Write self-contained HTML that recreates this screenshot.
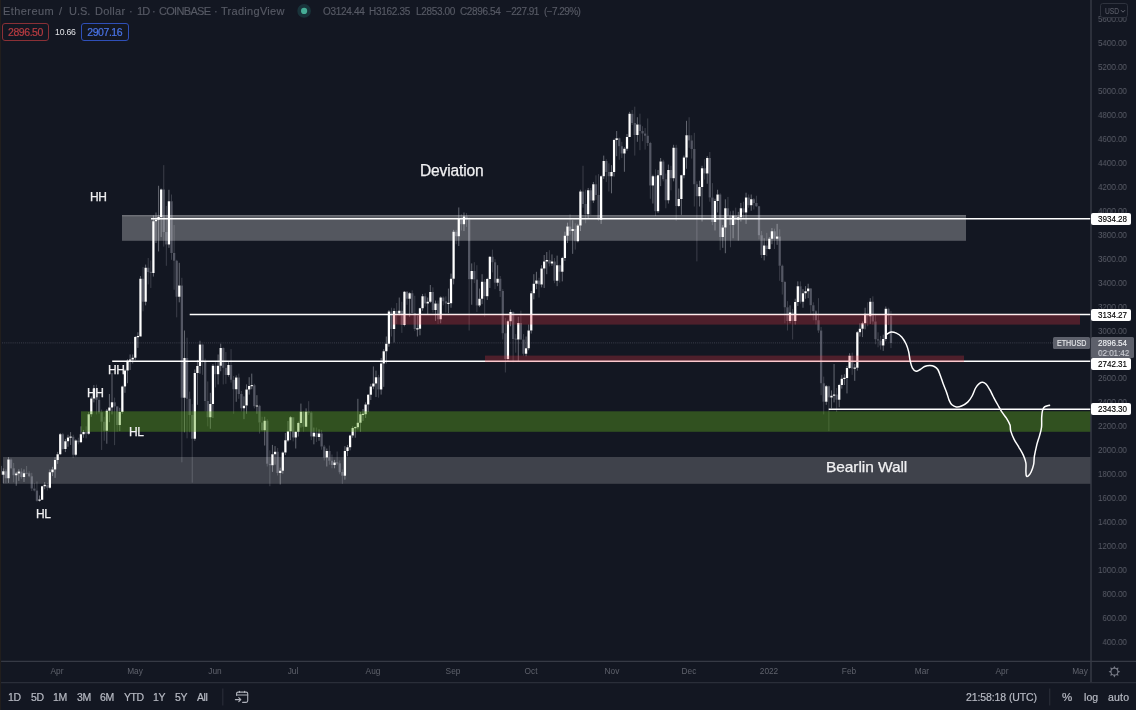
<!DOCTYPE html>
<html><head><meta charset="utf-8"><title>ETHUSD</title>
<style>
*{margin:0;padding:0;box-sizing:border-box}
html,body{width:1136px;height:710px;overflow:hidden;background:#131722}
body>div{will-change:transform}
body{font-family:"Liberation Sans",sans-serif;position:relative;color:#d1d4dc}
.abs{position:absolute;white-space:nowrap}
#chart{position:absolute;left:0;top:0;width:1136px;height:710px}
.sl{position:absolute;left:1077.2px;width:50px;text-align:right;font-size:9.3px;line-height:10px;color:#595c67;white-space:nowrap;transform:scaleX(0.865);transform-origin:100% 50%}
.ml{position:absolute;top:665.9px;width:40px;text-align:center;font-size:8.3px;line-height:10px;color:#5f626c;white-space:nowrap}
.pl{position:absolute;left:1091px;width:40px;height:12px;background:#fff;color:#000;font-size:9.3px;line-height:12px;border-radius:2px;white-space:nowrap}
.pl span,.sx{display:inline-block;transform:scaleX(0.865);transform-origin:0 50%;-webkit-text-stroke:0.15px currentColor}
.pl span{position:absolute;left:7.2px;top:0.4px}
.ht{top:4.5px;font-size:11px;line-height:13px;color:#575a65;-webkit-text-stroke:0.15px #575a65}
.ho{top:5.6px;font-size:10px;line-height:12px;color:#575a65;-webkit-text-stroke:0.15px #575a65}
.tb{position:absolute;top:691px;font-size:10.5px;line-height:12px;color:#b8bbc4;white-space:nowrap;letter-spacing:-0.45px;-webkit-text-stroke:0.2px #b8bbc4}
.lbl{position:absolute;color:#f0f0f2;white-space:nowrap;-webkit-text-stroke:0.25px #f0f0f2}
.hh{font-size:12px;line-height:14px;letter-spacing:-0.5px}
.hl{font-size:12px;line-height:14px;letter-spacing:-0.5px}
</style></head><body>
<svg id="chart" width="1136" height="710" viewBox="0 0 1136 710">
<!-- current price dotted line -->
<line x1="0" y1="342.9" x2="1053" y2="342.9" stroke="#3c3f4c" stroke-width="1" stroke-dasharray="1 1.1"/>
<g id="candles">
<path d="M3.30 468.29V471.16M3.30 474.64V483.26M8.48 457.03V459.54M8.48 478.23V482.90M16.24 471.88V473.56M16.24 475.24V485.78M18.83 469.25V471.40M18.83 473.56V480.87M24.00 469.37V473.20M24.00 476.91V481.95M39.53 495.48V499.56M39.53 500.76V501.59M42.12 485.66V486.26M42.12 499.68V500.04M44.71 482.07V484.70M44.71 486.26V489.25M49.88 469.49V472.36M49.88 487.70V488.66M52.47 466.85V469.49M52.47 472.36V476.08M55.06 457.15V460.02M55.06 469.49V477.87M57.65 451.87V454.27M57.65 460.02V463.85M60.24 432.94V434.26M60.24 454.27V455.11M65.41 438.93V441.21M65.41 449.12V452.11M68.00 434.74V437.38M68.00 441.21V446.72M70.59 432.10V436.48M70.59 437.68V444.92M75.76 439.29V440.49M75.76 454.63V456.31M80.94 426.35V434.26M80.94 442.29V443.13M83.53 429.95V431.99M83.53 434.26V437.74M88.70 411.98V414.25M88.70 433.78V434.74M91.29 396.40V398.44M91.29 414.25V416.77M93.88 385.02V388.49M93.88 398.44V402.39M106.82 408.98V410.78M106.82 430.79V443.73M109.41 394.01V407.54M109.41 410.78V422.16M112.00 373.04V402.27M112.00 407.54V414.37M119.76 407.78V412.10M119.76 424.92V431.15M122.35 385.62V386.46M122.35 412.10V413.77M124.94 368.85V370.52M124.94 386.46V392.81M127.52 359.26V360.70M127.52 370.52V383.22M130.11 354.47V359.56M130.11 360.76V370.04M132.70 354.47V357.70M132.70 359.62V363.45M135.29 335.90V336.98M135.29 357.70V359.86M137.88 332.30V336.08M137.88 337.28V347.88M140.46 275.99V278.87M145.64 264.61V267.85M145.64 301.75V305.35M153.40 215.49V221.36M153.40 272.88V276.59M155.99 212.49V219.80M155.99 221.36V243.04M158.58 185.78V216.93M158.58 219.80V251.43M161.17 188.53V189.61M161.17 216.93V237.05M168.93 189.73V201.23M168.93 244.60V247.84M179.28 262.81V285.46M179.28 296.72V302.35M184.46 330.51V358.06M184.46 397.84V432.34M194.81 369.44V373.04M194.81 438.81V440.73M197.40 359.86V366.09M197.40 373.04V404.79M199.99 340.69V344.40M199.99 366.09V373.64M210.34 392.81V404.07M210.34 417.25V428.75M212.93 364.05V365.73M212.93 404.07V417.97M218.10 354.47V365.73M218.10 374.36V384.42M220.69 343.69V347.88M220.69 365.73V371.24M228.46 361.06V365.01M228.46 375.08V376.63M236.22 375.43V377.47M236.22 389.21V401.79M243.98 396.40V405.63M243.98 408.14V419.17M246.57 384.42V389.45M246.57 405.63V413.77M249.16 377.23V385.98M249.16 389.45V394.60M251.75 373.64V384.96M251.75 386.16V389.21M256.92 395.20V405.39M256.92 406.59V413.77M264.69 416.77V420.84M264.69 430.31V445.52M272.45 444.92V454.15M272.45 465.29V471.88M275.04 446.12V451.75M275.04 454.15V464.69M280.22 467.69V470.68M280.22 472.96V484.46M282.80 451.51V452.47M282.80 470.68V473.68M285.39 432.94V440.37M285.39 452.47V455.11M287.98 420.96V431.15M287.98 440.37V441.93M290.57 416.17V417.37M290.57 431.15V440.13M295.74 431.15V431.75M295.74 437.38V448.52M298.33 421.56V423.12M298.33 431.75V436.54M300.92 403.59V411.74M300.92 423.12V427.55M306.10 408.38V411.74M306.10 426.71V426.95M313.86 427.55V432.82M313.86 436.54V444.33M319.04 429.35V433.54M319.04 437.02V440.73M326.80 448.52V450.92M326.80 457.50V466.49M334.56 459.90V462.42M334.56 465.05V468.29M344.92 446.12V450.92M344.92 475.84V479.67M347.50 444.92V447.32M347.50 450.92V456.31M350.09 434.74V435.58M350.09 447.32V450.32M352.68 426.35V427.91M352.68 435.58V437.74M355.27 426.35V427.01M355.27 428.21V437.74M357.86 398.80V422.76M357.86 427.31V429.35M360.44 411.98V414.37M360.44 422.76V431.75M363.03 408.98V413.77M363.03 414.97V420.96M365.62 402.39V404.55M365.62 414.37V417.97M368.21 394.01V394.84M368.21 404.55V411.98M370.80 383.82V386.58M370.80 394.84V400.00M373.38 366.45V383.58M373.38 386.58V389.21M375.97 370.64V377.23M375.97 383.58V397.00M381.15 358.06V363.45M381.15 389.45V394.60M383.74 349.08V351.23M383.74 363.45V386.82M386.32 336.50V343.69M386.32 351.23V363.45M388.91 310.14V311.58M388.91 343.69V346.68M394.09 308.34V310.98M394.09 329.07V342.49M399.26 297.56V310.86M399.26 313.49V315.53M404.44 290.97V291.81M404.44 325.11V326.31M409.62 292.17V293.36M409.62 298.76V316.73M417.38 315.53V328.29M417.38 329.49V336.50M419.97 307.74V308.34M419.97 328.71V335.30M422.56 293.96V296.36M422.56 308.34V310.74M427.73 297.56V301.75M427.73 303.55V314.93M430.32 284.98V291.93M430.32 301.75V302.95M435.50 300.55V303.55M435.50 309.90V320.92M440.67 296.36V297.56M440.67 319.12V323.32M448.44 288.57V302.77M448.44 303.97V313.13M451.02 273.60V278.75M451.02 303.19V307.74M453.61 229.87V231.66M453.61 278.75V284.38M458.79 207.46V218.12M458.79 236.22V246.04M463.96 212.49V216.45M463.96 224.23V231.06M471.73 263.41V270.96M471.73 279.35V304.75M479.49 288.57V298.76M479.49 305.59V307.14M482.08 274.20V281.74M482.08 298.76V304.15M487.26 277.79V278.99M487.26 296.36V299.95M489.84 256.22V256.82M489.84 278.99V287.97M497.61 265.21V278.75M497.61 282.82V286.18M507.96 319.72V321.28M507.96 359.02V361.66M510.55 309.54V311.94M510.55 321.28V326.31M518.31 316.73V323.08M518.31 339.49V361.66M526.08 336.50V348.24M526.08 353.63V356.27M528.66 324.52V330.51M528.66 348.24V350.27M531.25 290.97V293.36M531.25 330.51V333.50M533.84 274.20V283.78M533.84 293.36V299.36M536.43 271.80V280.43M536.43 283.78V289.17M541.60 265.21V268.56M541.60 284.62V287.37M544.19 255.03V261.38M544.19 268.56V287.97M546.78 252.03V260.06M546.78 261.38V274.20M551.96 254.43V261.62M551.96 263.41V265.81M557.13 255.62V265.21M557.13 280.78V286.18M562.31 256.82V258.02M562.31 271.80V281.38M564.90 231.66V235.86M564.90 258.02V261.02M567.48 222.68V226.51M567.48 235.86V243.04M572.66 220.28V229.03M572.66 231.06V253.83M577.84 223.88V225.43M577.84 241.25V242.45M580.42 189.73V191.53M580.42 225.43V231.06M588.19 187.93V190.33M588.19 214.29V218.48M593.36 181.94V184.34M593.36 200.51V202.91M601.13 175.35V176.31M601.13 219.68V223.88M603.72 155.58V160.97M603.72 176.31V178.95M611.48 165.17V172.12M611.48 176.19V193.32M614.07 138.81V140.01M614.07 172.12V176.55M616.66 131.02V138.21M616.66 140.01V156.18M624.42 147.20V148.63M624.42 153.43V171.76M627.01 134.02V137.01M627.01 148.63V150.79M629.60 111.85V113.65M637.36 117.24V124.43M637.36 134.98V141.81M652.89 174.75V176.31M652.89 185.54V203.51M658.06 169.96V175.35M658.06 211.30V213.09M660.65 157.98V161.57M660.65 175.35V186.13M668.42 164.57V169.96M668.42 200.15V203.51M673.59 144.80V147.80M673.59 178.35V181.34M678.77 188.53V199.07M678.77 205.90V207.10M681.36 174.75V175.35M681.36 199.07V214.89M683.94 155.58V157.38M683.94 175.35V178.35M686.53 120.84V135.22M686.53 157.38V168.76M699.47 180.74V186.97M699.47 196.32V206.50M702.06 165.77V168.16M702.06 186.97V221.48M707.24 156.18V157.98M707.24 173.55V183.74M715.00 198.72V201.11M715.00 222.08V230.46M717.59 189.73V194.52M717.59 201.11V212.49M722.76 225.07V227.47M722.76 237.05V247.84M725.35 199.31V208.30M725.35 227.47V253.23M733.12 210.70V215.49M733.12 225.07V238.25M738.29 211.89V217.29M738.29 219.68V240.65M740.88 202.91V208.30M740.88 217.29V221.48M746.06 192.72V197.52M746.06 212.49V223.88M751.23 194.52V199.31M751.23 205.30V210.70M764.17 238.25V245.44M764.17 255.03V260.42M769.35 237.05V238.85M769.35 249.04V249.63M771.94 228.07V231.30M771.94 238.85V244.24M777.11 223.88V236.46M777.11 238.85V244.84M790.05 305.35V312.53M790.05 320.92V323.32M795.23 298.76V301.99M795.23 320.92V324.52M797.82 281.38V286.18M797.82 301.99V305.94M802.99 289.17V293.36M802.99 301.75V307.74M805.58 286.18V291.21M805.58 293.36V298.76M808.17 283.78V288.57M808.17 291.21V298.16M826.28 385.02V386.22M826.28 401.79V404.79M831.46 390.41V395.80M831.46 397.60V408.38M834.05 364.05V394.60M834.05 395.80V402.39M839.22 383.82V385.02M839.22 399.76V407.18M841.81 374.84V378.67M841.81 385.02V388.61M844.40 374.24V377.77M844.40 378.97V385.02M846.99 365.85V367.89M846.99 378.07V393.41M849.58 353.27V355.67M849.58 367.89V368.85M854.75 364.05V367.47M854.75 368.67V380.83M857.34 331.11V332.30M857.34 367.65V370.64M859.93 323.32V328.71M859.93 332.30V336.50M862.52 321.52V323.32M862.52 328.71V337.10M865.10 307.74V313.73M865.10 323.32V329.31M870.28 298.16V301.75M870.28 316.13V323.92M883.22 334.70V338.89M883.22 345.48V350.87M885.81 306.54V308.70M885.81 338.89V341.29" stroke="#c8cad2" stroke-opacity="0.45" stroke-width="1" fill="none"/>
<path d="M0.71 464.69V465.89M5.89 469.25V471.16M5.89 478.23V483.26M11.06 458.34V459.54M11.06 468.29V469.13M13.65 462.90V468.29M13.65 475.24V482.31M21.42 468.29V471.40M21.42 476.91V478.83M26.59 466.01V472.66M26.59 473.86V474.28M29.18 471.28V473.32M29.18 476.19V477.27M31.77 472.84V476.19M31.77 488.42V491.05M34.36 483.26V488.42M34.36 490.45V491.41M36.94 481.47V490.45M36.94 500.64V501.59M47.30 482.90V484.70M47.30 487.70V490.45M62.82 432.94V434.26M62.82 449.12V450.32M73.18 434.74V436.78M73.18 454.63V458.10M78.35 437.74V440.49M78.35 442.29V444.33M86.12 426.35V431.99M86.12 433.78V438.33M96.47 384.66V388.49M96.47 399.64V414.37M99.06 390.41V399.64M99.06 412.34V413.77M101.64 409.58V412.34M101.64 421.80V449.96M104.23 416.77V421.80M104.23 430.79V440.73M114.58 397.60V402.27M114.58 406.59V445.16M117.17 405.99V406.59M117.17 424.92V431.75M143.05 267.01V278.87M143.05 301.75V311.34M148.23 258.02V267.85M148.23 271.92V284.38M150.82 260.42V271.80M150.82 273.00V287.97M163.76 165.17V189.61M163.76 231.90V246.64M166.34 205.90V231.90M166.34 244.60V265.81M171.52 194.52V201.23M171.52 253.11V259.82M174.11 225.07V253.11M174.11 260.78V289.77M176.70 259.82V260.78M176.70 296.72V317.33M181.87 277.79V285.46M181.87 397.84V462.30M187.05 337.69V358.06M187.05 398.68V438.33M189.64 391.61V398.68M189.64 414.97V432.34M192.22 404.19V414.97M192.22 438.81V482.66M202.58 343.69V344.40M202.58 361.42V374.84M205.16 358.66V361.42M205.16 400.95V411.38M207.75 381.43V400.95M207.75 417.25V426.35M215.52 361.66V365.73M215.52 374.36V387.42M223.28 347.28V347.88M223.28 367.65V384.42M225.87 352.07V367.65M225.87 375.08V383.82M231.04 349.08V365.01M231.04 379.63V382.62M233.63 376.03V379.63M233.63 389.21V413.77M238.81 373.64V377.47M238.81 394.01V398.80M241.40 391.01V394.01M241.40 408.14V411.38M254.34 383.82V385.14M254.34 406.35V408.38M259.51 404.79V405.63M259.51 422.52V433.54M262.10 416.77V422.52M262.10 430.31V431.15M267.28 419.17V420.84M267.28 463.73V466.49M269.86 450.32V463.73M269.86 465.29V486.26M277.63 447.92V451.75M277.63 472.96V475.48M293.16 437.38V441.33M303.51 411.38V411.74M303.51 426.71V431.75M308.68 401.19V411.56M308.68 412.76V414.97M311.27 411.38V412.58M311.27 436.54V440.13M316.45 427.55V432.82M316.45 437.02V441.93M321.62 429.95V433.54M321.62 446.48V449.72M324.21 444.92V446.48M324.21 457.50V460.50M329.39 445.52V450.92M329.39 460.86V464.69M331.98 454.51V460.86M331.98 465.05V468.29M337.15 451.51V462.18M337.15 463.38V465.29M339.74 460.50V463.14M339.74 472.12V474.28M342.33 469.49V472.12M342.33 475.84V483.86M378.56 374.84V377.23M378.56 389.45V397.60M391.50 307.74V311.58M391.50 329.07V336.50M396.68 302.95V310.98M396.68 313.49V323.92M401.85 301.75V310.86M401.85 325.11V332.90M407.03 290.97V291.81M407.03 298.76V304.75M412.20 290.37V293.36M412.20 312.89V313.73M414.79 295.76V312.89M414.79 329.07V331.11M425.14 293.36V296.36M425.14 303.55V306.54M432.91 287.37V291.93M432.91 309.90V312.53M438.08 300.55V303.55M438.08 319.12V323.92M443.26 296.36V297.56M443.26 301.15V305.35M445.85 296.36V301.15M445.85 303.55V312.53M456.20 229.87V231.66M456.20 236.22V244.24M461.38 214.29V218.12M461.38 224.23V230.46M466.55 213.09V216.45M466.55 219.44V226.87M469.14 217.29V219.44M469.14 279.35V330.51M474.32 262.21V270.96M474.32 279.59V283.18M476.90 265.21V279.59M476.90 305.59V311.94M484.67 278.99V281.74M484.67 296.36V316.73M492.43 249.63V256.82M492.43 262.21V272.40M495.02 259.22V262.21M495.02 282.82V289.17M500.20 275.99V278.75M500.20 290.97V296.96M502.78 289.17V290.97M502.78 333.26V339.49M505.37 317.93V333.26M505.37 359.02V372.44M513.14 311.34V311.94M513.14 338.89V362.26M515.72 334.10V338.59M515.72 339.79V352.67M520.90 310.74V323.08M520.90 339.49V340.09M523.49 334.10V339.49M523.49 353.63V355.67M539.02 277.79V280.43M539.02 284.62V297.56M549.37 250.23V260.06M549.37 263.41V266.41M554.54 258.02V261.62M554.54 280.78V283.18M559.72 264.61V265.21M559.72 271.80V282.58M570.07 214.29V226.51M570.07 231.06V234.66M575.25 223.28V229.03M575.25 241.25V249.63M583.01 165.77V191.53M583.01 204.11V207.70M585.60 189.73V204.11M585.60 214.29V223.28M590.78 187.93V190.33M590.78 200.51V214.89M595.95 175.35V184.34M595.95 195.12V199.91M598.54 174.15V195.12M598.54 219.68V220.88M606.30 159.18V160.97M606.30 172.12V181.94M608.89 163.37V172.12M608.89 176.19V191.53M619.24 137.61V138.21M619.24 146.36V159.78M621.83 141.81V146.36M621.83 153.43V157.98M632.18 110.06V113.65M632.18 123.00V125.03M634.77 106.70V123.00M634.77 134.98V155.58M639.95 113.65V124.43M639.95 131.02V150.19M642.54 126.23V131.02M642.54 133.42V141.21M645.12 128.03V133.42M645.12 135.81V149.59M647.71 118.44V135.81M647.71 143.00V146.00M650.30 141.81V143.00M650.30 185.54V198.72M655.48 169.36V176.31M655.48 211.30V216.09M663.24 159.78V161.57M663.24 179.31V181.34M665.83 173.55V179.31M665.83 200.15V208.30M671.00 165.77V169.96M671.00 178.35V190.33M676.18 144.80V147.80M676.18 205.90V220.88M689.12 117.24V135.22M689.12 140.61V147.80M691.71 135.22V140.61M691.71 148.99V158.58M694.30 132.82V148.99M694.30 184.34V206.50M696.88 181.34V184.34M696.88 196.32V261.38M704.65 159.18V168.16M704.65 173.55V179.55M709.82 151.99V157.98M709.82 197.52V201.71M712.41 183.14V197.52M712.41 222.08V225.07M720.18 193.32V194.52M720.18 237.05V250.23M727.94 196.92V208.30M727.94 215.49V216.69M730.53 211.30V215.49M730.53 225.07V247.24M735.70 207.70V215.49M735.70 219.68V223.88M743.47 201.71V208.30M743.47 212.49V217.88M748.64 194.52V197.52M748.64 205.30V207.70M753.82 198.12V199.31M753.82 202.91V209.50M756.41 195.72V202.91M756.41 206.26V207.10M759.00 205.90V206.26M759.00 235.26V239.45M761.58 231.06V235.26M761.58 255.03V258.02M766.76 232.86V245.44M766.76 249.04V256.22M774.52 228.67V231.30M774.52 238.85V249.04M779.70 229.27V236.46M779.70 265.81V280.78M782.29 264.61V265.81M782.29 281.98V294.56M784.88 280.78V281.98M784.88 307.14V323.32M787.46 301.15V307.14M787.46 320.92V330.51M792.64 308.94V312.53M792.64 320.92V339.49M800.40 281.38V286.18M800.40 301.75V303.55M810.76 287.97V288.57M810.76 305.35V313.73M813.34 302.35V305.35M813.34 311.34V320.32M815.93 310.14V311.34M815.93 320.32V324.52M818.52 298.16V320.32M818.52 330.51V332.90M821.11 326.91V330.51M821.11 383.22V395.20M823.70 376.63V383.22M823.70 401.79V414.37M828.87 385.62V386.22M828.87 397.60V431.15M836.64 388.01V394.60M836.64 399.76V411.98M852.16 352.67V355.67M852.16 368.49V374.84M867.69 302.35V313.73M867.69 316.13V326.31M872.87 296.36V301.75M872.87 321.52V324.52M875.46 313.73V321.52M875.46 339.25V344.28M878.04 332.30V339.25M878.04 340.45V347.28M880.63 335.90V340.45M880.63 345.48V349.68M888.40 307.74V308.70M888.40 315.65V325.11M890.98 311.10V315.65M890.98 342.91V348.12" stroke="#7d808c" stroke-opacity="0.38" stroke-width="1" fill="none"/>
<path d="M-0.41 465.89h2.25v8.75h-2.25zM4.76 471.16h2.25v7.07h-2.25zM9.94 459.54h2.25v8.75h-2.25zM12.53 468.29h2.25v6.95h-2.25zM20.29 471.40h2.25v5.51h-2.25zM25.47 472.66h2.25v1.20h-2.25zM28.06 473.32h2.25v2.88h-2.25zM30.64 476.19h2.25v12.22h-2.25zM33.23 488.42h2.25v2.04h-2.25zM35.82 490.45h2.25v10.18h-2.25zM46.17 484.70h2.25v3.00h-2.25zM61.70 434.26h2.25v14.86h-2.25zM72.05 436.78h2.25v17.85h-2.25zM77.23 440.49h2.25v1.80h-2.25zM84.99 431.99h2.25v1.80h-2.25zM95.34 388.49h2.25v11.14h-2.25zM97.93 399.64h2.25v12.70h-2.25zM100.52 412.34h2.25v9.46h-2.25zM103.11 421.80h2.25v8.99h-2.25zM113.46 402.27h2.25v4.31h-2.25zM116.05 406.59h2.25v18.33h-2.25zM141.93 278.87h2.25v22.88h-2.25zM147.10 267.85h2.25v4.07h-2.25zM149.69 271.80h2.25v1.20h-2.25zM162.63 189.61h2.25v42.29h-2.25zM165.22 231.90h2.25v12.70h-2.25zM170.40 201.23h2.25v51.88h-2.25zM172.98 253.11h2.25v7.67h-2.25zM175.57 260.78h2.25v35.94h-2.25zM180.75 285.46h2.25v112.38h-2.25zM185.92 358.06h2.25v40.62h-2.25zM188.51 398.68h2.25v16.29h-2.25zM191.10 414.97h2.25v23.84h-2.25zM201.45 344.40h2.25v17.01h-2.25zM204.04 361.42h2.25v39.54h-2.25zM206.63 400.95h2.25v16.29h-2.25zM214.39 365.73h2.25v8.63h-2.25zM222.16 347.88h2.25v19.77h-2.25zM224.74 367.65h2.25v7.43h-2.25zM229.92 365.01h2.25v14.62h-2.25zM232.51 379.63h2.25v9.58h-2.25zM237.68 377.47h2.25v16.53h-2.25zM240.27 394.01h2.25v14.14h-2.25zM253.21 385.14h2.25v21.21h-2.25zM258.39 405.63h2.25v16.89h-2.25zM260.98 422.52h2.25v7.79h-2.25zM266.15 420.84h2.25v42.89h-2.25zM268.74 463.73h2.25v1.56h-2.25zM276.50 451.75h2.25v21.21h-2.25zM292.03 417.37h2.25v20.01h-2.25zM302.38 411.74h2.25v14.98h-2.25zM307.56 411.56h2.25v1.20h-2.25zM310.15 412.58h2.25v23.96h-2.25zM315.32 432.82h2.25v4.19h-2.25zM320.50 433.54h2.25v12.94h-2.25zM323.09 446.48h2.25v11.02h-2.25zM328.26 450.92h2.25v9.94h-2.25zM330.85 460.86h2.25v4.19h-2.25zM336.03 462.18h2.25v1.20h-2.25zM338.62 463.14h2.25v8.99h-2.25zM341.20 472.12h2.25v3.71h-2.25zM377.44 377.23h2.25v12.22h-2.25zM390.38 311.58h2.25v17.49h-2.25zM395.55 310.98h2.25v2.52h-2.25zM400.73 310.86h2.25v14.26h-2.25zM405.90 291.81h2.25v6.95h-2.25zM411.08 293.36h2.25v19.53h-2.25zM413.67 312.89h2.25v16.17h-2.25zM424.02 296.36h2.25v7.19h-2.25zM431.78 291.93h2.25v17.97h-2.25zM436.96 303.55h2.25v15.58h-2.25zM442.14 297.56h2.25v3.59h-2.25zM444.72 301.15h2.25v2.40h-2.25zM455.08 231.66h2.25v4.55h-2.25zM460.25 218.12h2.25v6.11h-2.25zM465.43 216.45h2.25v3.00h-2.25zM468.02 219.44h2.25v59.91h-2.25zM473.19 270.96h2.25v8.63h-2.25zM475.78 279.59h2.25v26.00h-2.25zM483.54 281.74h2.25v14.62h-2.25zM491.31 256.82h2.25v5.39h-2.25zM493.90 262.21h2.25v20.61h-2.25zM499.07 278.75h2.25v12.22h-2.25zM501.66 290.97h2.25v42.29h-2.25zM504.25 333.26h2.25v25.76h-2.25zM512.01 311.94h2.25v26.96h-2.25zM514.60 338.59h2.25v1.20h-2.25zM519.77 323.08h2.25v16.41h-2.25zM522.36 339.49h2.25v14.14h-2.25zM537.89 280.43h2.25v4.19h-2.25zM548.24 260.06h2.25v3.35h-2.25zM553.42 261.62h2.25v19.17h-2.25zM558.60 265.21h2.25v6.59h-2.25zM568.95 226.51h2.25v4.55h-2.25zM574.12 229.03h2.25v12.22h-2.25zM581.89 191.53h2.25v12.58h-2.25zM584.48 204.11h2.25v10.18h-2.25zM589.65 190.33h2.25v10.18h-2.25zM594.83 184.34h2.25v10.78h-2.25zM597.41 195.12h2.25v24.56h-2.25zM605.18 160.97h2.25v11.14h-2.25zM607.77 172.12h2.25v4.07h-2.25zM618.12 138.21h2.25v8.15h-2.25zM620.71 146.36h2.25v7.07h-2.25zM631.06 113.65h2.25v9.35h-2.25zM633.65 123.00h2.25v11.98h-2.25zM638.82 124.43h2.25v6.59h-2.25zM641.41 131.02h2.25v2.40h-2.25zM644.00 133.42h2.25v2.40h-2.25zM646.59 135.81h2.25v7.19h-2.25zM649.17 143.00h2.25v42.53h-2.25zM654.35 176.31h2.25v34.98h-2.25zM662.12 161.57h2.25v17.73h-2.25zM664.70 179.31h2.25v20.85h-2.25zM669.88 169.96h2.25v8.39h-2.25zM675.05 147.80h2.25v58.11h-2.25zM688.00 135.22h2.25v5.39h-2.25zM690.58 140.61h2.25v8.39h-2.25zM693.17 148.99h2.25v35.34h-2.25zM695.76 184.34h2.25v11.98h-2.25zM703.52 168.16h2.25v5.39h-2.25zM708.70 157.98h2.25v39.54h-2.25zM711.29 197.52h2.25v24.56h-2.25zM719.05 194.52h2.25v42.53h-2.25zM726.81 208.30h2.25v7.19h-2.25zM729.40 215.49h2.25v9.58h-2.25zM734.58 215.49h2.25v4.19h-2.25zM742.34 208.30h2.25v4.19h-2.25zM747.52 197.52h2.25v7.79h-2.25zM752.69 199.31h2.25v3.59h-2.25zM755.28 202.91h2.25v3.35h-2.25zM757.87 206.26h2.25v28.99h-2.25zM760.46 235.26h2.25v19.77h-2.25zM765.63 245.44h2.25v3.59h-2.25zM773.40 231.30h2.25v7.55h-2.25zM778.57 236.46h2.25v29.35h-2.25zM781.16 265.81h2.25v16.17h-2.25zM783.75 281.98h2.25v25.16h-2.25zM786.34 307.14h2.25v13.78h-2.25zM791.51 312.53h2.25v8.39h-2.25zM799.28 286.18h2.25v15.58h-2.25zM809.63 288.57h2.25v16.77h-2.25zM812.22 305.35h2.25v5.99h-2.25zM814.81 311.34h2.25v8.99h-2.25zM817.39 320.32h2.25v10.18h-2.25zM819.98 330.51h2.25v52.72h-2.25zM822.57 383.22h2.25v18.57h-2.25zM827.75 386.22h2.25v11.38h-2.25zM835.51 394.60h2.25v5.15h-2.25zM851.04 355.67h2.25v12.82h-2.25zM866.57 313.73h2.25v2.40h-2.25zM871.74 301.75h2.25v19.77h-2.25zM874.33 321.52h2.25v17.73h-2.25zM876.92 339.25h2.25v1.20h-2.25zM879.51 340.45h2.25v5.03h-2.25zM887.27 308.70h2.25v6.95h-2.25zM889.86 315.65h2.25v27.26h-2.25z" fill="#7d808c" fill-opacity="0.62"/>
<path d="M2.17 471.16h2.25v3.47h-2.25zM7.35 459.54h2.25v18.69h-2.25zM15.12 473.56h2.25v1.68h-2.25zM17.70 471.40h2.25v2.16h-2.25zM22.88 473.20h2.25v3.71h-2.25zM38.41 499.56h2.25v1.20h-2.25zM40.99 486.26h2.25v13.42h-2.25zM43.58 484.70h2.25v1.56h-2.25zM48.76 472.36h2.25v15.34h-2.25zM51.35 469.49h2.25v2.88h-2.25zM53.94 460.02h2.25v9.46h-2.25zM56.52 454.27h2.25v5.75h-2.25zM59.11 434.26h2.25v20.01h-2.25zM64.29 441.21h2.25v7.91h-2.25zM66.88 437.38h2.25v3.83h-2.25zM69.46 436.48h2.25v1.20h-2.25zM74.64 440.49h2.25v14.14h-2.25zM79.81 434.26h2.25v8.03h-2.25zM82.40 431.99h2.25v2.28h-2.25zM87.58 414.25h2.25v19.53h-2.25zM90.17 398.44h2.25v15.81h-2.25zM92.75 388.49h2.25v9.94h-2.25zM105.70 410.78h2.25v20.01h-2.25zM108.28 407.54h2.25v3.23h-2.25zM110.87 402.27h2.25v5.27h-2.25zM118.64 412.10h2.25v12.82h-2.25zM121.22 386.46h2.25v25.64h-2.25zM123.81 370.52h2.25v15.93h-2.25zM126.40 360.70h2.25v9.82h-2.25zM128.99 359.56h2.25v1.20h-2.25zM131.58 357.70h2.25v1.92h-2.25zM134.16 336.98h2.25v20.73h-2.25zM136.75 336.08h2.25v1.20h-2.25zM139.34 278.87h2.25v57.51h-2.25zM144.52 267.85h2.25v33.91h-2.25zM152.28 221.36h2.25v51.52h-2.25zM154.87 219.80h2.25v1.56h-2.25zM157.46 216.93h2.25v2.88h-2.25zM160.04 189.61h2.25v27.32h-2.25zM167.81 201.23h2.25v43.37h-2.25zM178.16 285.46h2.25v11.26h-2.25zM183.34 358.06h2.25v39.78h-2.25zM193.69 373.04h2.25v65.78h-2.25zM196.28 366.09h2.25v6.95h-2.25zM198.86 344.40h2.25v21.69h-2.25zM209.22 404.07h2.25v13.18h-2.25zM211.80 365.73h2.25v38.34h-2.25zM216.98 365.73h2.25v8.63h-2.25zM219.57 347.88h2.25v17.85h-2.25zM227.33 365.01h2.25v10.06h-2.25zM235.10 377.47h2.25v11.74h-2.25zM242.86 405.63h2.25v2.52h-2.25zM245.45 389.45h2.25v16.17h-2.25zM248.04 385.98h2.25v3.47h-2.25zM250.62 384.96h2.25v1.20h-2.25zM255.80 405.39h2.25v1.20h-2.25zM263.56 420.84h2.25v9.46h-2.25zM271.33 454.15h2.25v11.14h-2.25zM273.92 451.75h2.25v2.40h-2.25zM279.09 470.68h2.25v2.28h-2.25zM281.68 452.47h2.25v18.21h-2.25zM284.27 440.37h2.25v12.10h-2.25zM286.86 431.15h2.25v9.23h-2.25zM289.44 417.37h2.25v13.78h-2.25zM294.62 431.75h2.25v5.63h-2.25zM297.21 423.12h2.25v8.63h-2.25zM299.80 411.74h2.25v11.38h-2.25zM304.97 411.74h2.25v14.98h-2.25zM312.74 432.82h2.25v3.71h-2.25zM317.91 433.54h2.25v3.47h-2.25zM325.68 450.92h2.25v6.59h-2.25zM333.44 462.42h2.25v2.64h-2.25zM343.79 450.92h2.25v24.92h-2.25zM346.38 447.32h2.25v3.59h-2.25zM348.97 435.58h2.25v11.74h-2.25zM351.56 427.91h2.25v7.67h-2.25zM354.14 427.01h2.25v1.20h-2.25zM356.73 422.76h2.25v4.55h-2.25zM359.32 414.37h2.25v8.39h-2.25zM361.91 413.77h2.25v1.20h-2.25zM364.50 404.55h2.25v9.82h-2.25zM367.08 394.84h2.25v9.70h-2.25zM369.67 386.58h2.25v8.27h-2.25zM372.26 383.58h2.25v3.00h-2.25zM374.85 377.23h2.25v6.35h-2.25zM380.02 363.45h2.25v26.00h-2.25zM382.61 351.23h2.25v12.22h-2.25zM385.20 343.69h2.25v7.55h-2.25zM387.79 311.58h2.25v32.11h-2.25zM392.96 310.98h2.25v18.09h-2.25zM398.14 310.86h2.25v2.64h-2.25zM403.31 291.81h2.25v33.31h-2.25zM408.49 293.36h2.25v5.39h-2.25zM416.26 328.29h2.25v1.20h-2.25zM418.84 308.34h2.25v20.37h-2.25zM421.43 296.36h2.25v11.98h-2.25zM426.61 301.75h2.25v1.80h-2.25zM429.20 291.93h2.25v9.82h-2.25zM434.37 303.55h2.25v6.35h-2.25zM439.55 297.56h2.25v21.57h-2.25zM447.31 302.77h2.25v1.20h-2.25zM449.90 278.75h2.25v24.44h-2.25zM452.49 231.66h2.25v47.09h-2.25zM457.66 218.12h2.25v18.09h-2.25zM462.84 216.45h2.25v7.79h-2.25zM470.60 270.96h2.25v8.39h-2.25zM478.37 298.76h2.25v6.83h-2.25zM480.96 281.74h2.25v17.01h-2.25zM486.13 278.99h2.25v17.37h-2.25zM488.72 256.82h2.25v22.16h-2.25zM496.48 278.75h2.25v4.07h-2.25zM506.84 321.28h2.25v37.74h-2.25zM509.42 311.94h2.25v9.35h-2.25zM517.19 323.08h2.25v16.41h-2.25zM524.95 348.24h2.25v5.39h-2.25zM527.54 330.51h2.25v17.73h-2.25zM530.13 293.36h2.25v37.14h-2.25zM532.71 283.78h2.25v9.58h-2.25zM535.30 280.43h2.25v3.35h-2.25zM540.48 268.56h2.25v16.05h-2.25zM543.07 261.38h2.25v7.19h-2.25zM545.65 260.06h2.25v1.32h-2.25zM550.83 261.62h2.25v1.80h-2.25zM556.01 265.21h2.25v15.58h-2.25zM561.18 258.02h2.25v13.78h-2.25zM563.77 235.86h2.25v22.16h-2.25zM566.36 226.51h2.25v9.35h-2.25zM571.53 229.03h2.25v2.04h-2.25zM576.71 225.43h2.25v15.81h-2.25zM579.30 191.53h2.25v33.91h-2.25zM587.06 190.33h2.25v23.96h-2.25zM592.24 184.34h2.25v16.17h-2.25zM600.00 176.31h2.25v43.37h-2.25zM602.59 160.97h2.25v15.34h-2.25zM610.36 172.12h2.25v4.07h-2.25zM612.94 140.01h2.25v32.11h-2.25zM615.53 138.21h2.25v1.80h-2.25zM623.29 148.63h2.25v4.79h-2.25zM625.88 137.01h2.25v11.62h-2.25zM628.47 113.65h2.25v23.36h-2.25zM636.24 124.43h2.25v10.54h-2.25zM651.76 176.31h2.25v9.23h-2.25zM656.94 175.35h2.25v35.94h-2.25zM659.53 161.57h2.25v13.78h-2.25zM667.29 169.96h2.25v30.19h-2.25zM672.47 147.80h2.25v30.55h-2.25zM677.64 199.07h2.25v6.83h-2.25zM680.23 175.35h2.25v23.72h-2.25zM682.82 157.38h2.25v17.97h-2.25zM685.41 135.22h2.25v22.16h-2.25zM698.35 186.97h2.25v9.35h-2.25zM700.93 168.16h2.25v18.81h-2.25zM706.11 157.98h2.25v15.58h-2.25zM713.88 201.11h2.25v20.97h-2.25zM716.46 194.52h2.25v6.59h-2.25zM721.64 227.47h2.25v9.58h-2.25zM724.23 208.30h2.25v19.17h-2.25zM731.99 215.49h2.25v9.58h-2.25zM737.17 217.29h2.25v2.40h-2.25zM739.75 208.30h2.25v8.99h-2.25zM744.93 197.52h2.25v14.98h-2.25zM750.11 199.31h2.25v5.99h-2.25zM763.05 245.44h2.25v9.58h-2.25zM768.22 238.85h2.25v10.18h-2.25zM770.81 231.30h2.25v7.55h-2.25zM775.99 236.46h2.25v2.40h-2.25zM788.93 312.53h2.25v8.39h-2.25zM794.10 301.99h2.25v18.93h-2.25zM796.69 286.18h2.25v15.81h-2.25zM801.87 293.36h2.25v8.39h-2.25zM804.45 291.21h2.25v2.16h-2.25zM807.04 288.57h2.25v2.64h-2.25zM825.16 386.22h2.25v15.58h-2.25zM830.34 395.80h2.25v1.80h-2.25zM832.92 394.60h2.25v1.20h-2.25zM838.10 385.02h2.25v14.74h-2.25zM840.69 378.67h2.25v6.35h-2.25zM843.27 377.77h2.25v1.20h-2.25zM845.86 367.89h2.25v10.18h-2.25zM848.45 355.67h2.25v12.22h-2.25zM853.63 367.47h2.25v1.20h-2.25zM856.22 332.30h2.25v35.34h-2.25zM858.80 328.71h2.25v3.59h-2.25zM861.39 323.32h2.25v5.39h-2.25zM863.98 313.73h2.25v9.58h-2.25zM869.15 301.75h2.25v14.38h-2.25zM882.10 338.89h2.25v6.59h-2.25zM884.68 308.70h2.25v30.19h-2.25z" fill="#ffffff"/>

</g>
<!-- lines -->
<line x1="122" y1="215.7" x2="966" y2="215.7" stroke="#fff" stroke-opacity="0.45" stroke-width="0.8"/>
<line x1="151" y1="218.7" x2="1091" y2="218.7" stroke="#fff" stroke-width="1.6"/>
<line x1="189.7" y1="314.6" x2="1091" y2="314.6" stroke="#fff" stroke-width="1.5"/>
<line x1="112.2" y1="361.3" x2="1091" y2="361.3" stroke="#fff" stroke-width="1.5"/>
<line x1="828.7" y1="409.3" x2="1091" y2="409.3" stroke="#fff" stroke-width="1.5"/>
<!-- zones -->
<rect x="122" y="215.5" width="844" height="25.3" fill="#ffffff" fill-opacity="0.28"/>
<rect x="3" y="457" width="1088" height="26.8" fill="#ffffff" fill-opacity="0.19"/>
<rect x="81" y="411.3" width="1010" height="20.5" fill="#5eaa1f" fill-opacity="0.4"/>
<rect x="392.5" y="314.6" width="687.5" height="10" fill="#f23645" fill-opacity="0.27"/>
<rect x="485" y="355.6" width="479" height="6.6" fill="#f23645" fill-opacity="0.27"/>
<path d="M886.7 334.3C887.4 333.9 889.5 332.2 891.1 332.0C892.7 331.8 894.6 332.3 896.4 333.1C898.2 333.9 900.1 335.2 901.7 337.0C903.3 338.8 904.9 341.5 906.1 344.0C907.3 346.5 908.0 349.1 908.7 351.9C909.4 354.7 909.5 358.0 910.1 360.7C910.7 363.4 911.3 366.0 912.3 367.8C913.3 369.6 914.8 371.0 916.1 371.3C917.4 371.6 918.8 370.3 920.2 369.5C921.6 368.7 923.0 367.2 924.6 366.5C926.2 365.8 928.3 365.5 929.9 365.5C931.5 365.5 933.0 365.8 934.3 366.5C935.6 367.2 936.8 368.0 937.8 369.5C938.8 371.0 939.5 373.3 940.4 375.7C941.3 378.1 942.1 380.8 943.1 383.6C944.1 386.4 945.6 389.6 946.6 392.4C947.6 395.2 948.3 398.3 949.2 400.4C950.1 402.5 950.7 403.7 951.9 404.8C953.1 405.9 954.7 406.7 956.3 406.9C957.9 407.1 959.6 406.8 961.5 406.0C963.4 405.2 965.9 403.8 967.7 402.1C969.5 400.4 970.8 398.4 972.1 396.0C973.4 393.6 974.4 390.1 975.6 388.0C976.8 385.9 978.0 384.6 979.2 383.6C980.4 382.7 981.5 382.2 982.7 382.3C983.9 382.4 985.0 383.0 986.2 384.3C987.4 385.6 988.8 388.0 990.0 390.0C991.2 392.0 991.9 394.1 993.2 396.5C994.5 398.9 996.1 401.9 997.6 404.5C999.1 407.1 1000.5 409.9 1002.0 412.2C1003.5 414.5 1005.1 416.0 1006.4 418.1C1007.7 420.2 1009.3 422.9 1010.0 425.0C1010.7 427.1 1010.0 428.5 1010.7 430.9C1011.4 433.3 1012.7 436.5 1014.1 439.3C1015.5 442.1 1017.7 445.1 1019.2 447.8C1020.8 450.5 1022.3 452.9 1023.4 455.4C1024.5 457.9 1025.5 460.3 1025.9 463.0C1026.3 465.7 1025.8 469.4 1025.9 471.5C1026.0 473.6 1026.0 474.9 1026.3 475.7C1026.6 476.5 1027.2 476.8 1028.0 476.2C1028.8 475.6 1030.1 474.2 1031.0 472.3C1031.9 470.4 1033.0 467.4 1033.6 464.7C1034.2 462.0 1033.9 459.6 1034.4 456.2C1035.0 452.8 1036.1 447.8 1036.9 444.4C1037.8 441.0 1038.7 438.7 1039.5 435.9C1040.3 433.1 1041.1 430.6 1041.5 427.5C1041.9 424.4 1041.5 420.1 1041.7 417.3C1041.9 414.5 1042.0 412.3 1042.5 410.6C1043.0 408.9 1043.3 407.8 1044.5 406.9C1045.7 406.0 1048.8 405.5 1049.6 405.2" fill="none" stroke="#fff" stroke-width="1.5" stroke-linecap="round" stroke-linejoin="round"/>
<!-- axes -->
<line x1="1091" y1="0" x2="1091" y2="683" stroke="#363a45" stroke-width="1.5"/>
<line x1="0" y1="661.4" x2="1136" y2="661.4" stroke="#363a45" stroke-width="1.3"/>
<line x1="0" y1="682.6" x2="1136" y2="682.6" stroke="#2a2e39" stroke-width="1.2"/>
<rect x="0" y="0" width="1.1" height="710" fill="#211e1d"/>
<!-- toolbar separators -->
<line x1="222.8" y1="688.4" x2="222.8" y2="705.6" stroke="#282c37" stroke-width="1.2"/>
<line x1="1049.7" y1="688.4" x2="1049.7" y2="705.6" stroke="#282c37" stroke-width="1.2"/>
<!-- status dot -->
<circle cx="304.1" cy="10.9" r="6.8" fill="#19333a"/>
<circle cx="304.1" cy="10.9" r="3.1" fill="#46ad96"/>
<!-- calendar goto icon -->
<g fill="none" stroke="#aeb1ba" stroke-width="1.15" stroke-linecap="round" stroke-linejoin="round">
<path d="M236.6 695.2v-1.6a1.5 1.5 0 0 1 1.5-1.5h8.1a1.5 1.5 0 0 1 1.5 1.5v7.2a1.5 1.5 0 0 1-1.5 1.5h-3.6"/>
<path d="M236.6 695h11.1"/>
<path d="M239.5 691.3v1.2M244.6 691.3v1.2"/>
<path d="M235.4 699.6h5.2M238.8 697.6l2 2l-2 2"/>
</g>
<!-- gear icon -->
<polygon points="1114.40,665.90 1112.98,668.28 1110.30,667.60 1110.98,670.28 1108.60,671.70 1110.98,673.12 1110.30,675.80 1112.98,675.12 1114.40,677.50 1115.82,675.12 1118.50,675.80 1117.82,673.12 1120.20,671.70 1117.82,670.28 1118.50,667.60 1115.82,668.28" fill="#777a86"/>
<circle cx="1114.4" cy="671.7" r="2.9" fill="#141823"/>
</svg>

<!-- header -->
<div class="abs ht" style="left:2.7px;letter-spacing:0.42px">Ethereum</div>
<div class="abs ht" style="left:58.8px;letter-spacing:0.00px">/</div>
<div class="abs ht" style="left:68.7px;letter-spacing:-0.05px">U.S.</div>
<div class="abs ht" style="left:95.1px;letter-spacing:0.28px">Dollar</div>
<div class="abs ht" style="left:128.7px;letter-spacing:0.00px">·</div>
<div class="abs ht" style="left:136.7px;letter-spacing:-0.88px">1D</div>
<div class="abs ht" style="left:151.9px;letter-spacing:0.00px">·</div>
<div class="abs ht" style="left:158.7px;letter-spacing:-0.69px">COINBASE</div>
<div class="abs ht" style="left:213.7px;letter-spacing:0.00px">·</div>
<div class="abs ht" style="left:221.3px;letter-spacing:0.29px">TradingView</div>
<div class="abs ho" style="left:322.6px;letter-spacing:-0.30px">O3124.44</div>
<div class="abs ho" style="left:369.4px;letter-spacing:-0.31px">H3162.35</div>
<div class="abs ho" style="left:415.6px;letter-spacing:-0.33px">L2853.00</div>
<div class="abs ho" style="left:460.3px;letter-spacing:-0.36px">C2896.54</div>
<div class="abs ho" style="left:506.0px;letter-spacing:-0.52px">−227.91</div>
<div class="abs ho" style="left:543.7px;letter-spacing:-0.58px">(−7.29%)</div>

<div class="abs" id="redbox" style="left:2px;top:23px;width:47px;height:18px;border:1px solid #8a3036;border-radius:3px;color:#b83c42;font-size:10.5px;line-height:16px;text-align:center;letter-spacing:-0.45px;-webkit-text-stroke:0.2px #b83c42">2896.50</div>
<div class="abs" id="spread" style="left:55px;top:26.8px;font-size:8.7px;line-height:10px;color:#e1e2e6;letter-spacing:-0.2px">10.66</div>
<div class="abs" id="bluebox" style="left:81px;top:23px;width:47.5px;height:18px;border:1px solid #2f4fb8;border-radius:3px;color:#4a74e8;font-size:10.5px;line-height:16px;text-align:center;letter-spacing:-0.45px;-webkit-text-stroke:0.2px #4a74e8">2907.16</div>

<!-- USD button -->
<div class="sl" style="top:14.0px">5600.00</div>
<div class="sl" style="top:38.0px">5400.00</div>
<div class="sl" style="top:61.9px">5200.00</div>
<div class="sl" style="top:85.9px">5000.00</div>
<div class="sl" style="top:109.8px">4800.00</div>
<div class="sl" style="top:133.8px">4600.00</div>
<div class="sl" style="top:157.8px">4400.00</div>
<div class="sl" style="top:181.7px">4200.00</div>
<div class="sl" style="top:205.7px">4000.00</div>
<div class="sl" style="top:229.7px">3800.00</div>
<div class="sl" style="top:253.6px">3600.00</div>
<div class="sl" style="top:277.6px">3400.00</div>
<div class="sl" style="top:301.5px">3200.00</div>
<div class="sl" style="top:325.5px">3000.00</div>
<div class="sl" style="top:349.5px">2800.00</div>
<div class="sl" style="top:373.4px">2600.00</div>
<div class="sl" style="top:397.4px">2400.00</div>
<div class="sl" style="top:421.4px">2200.00</div>
<div class="sl" style="top:445.3px">2000.00</div>
<div class="sl" style="top:469.3px">1800.00</div>
<div class="sl" style="top:493.2px">1600.00</div>
<div class="sl" style="top:517.2px">1400.00</div>
<div class="sl" style="top:541.2px">1200.00</div>
<div class="sl" style="top:565.1px">1000.00</div>
<div class="sl" style="top:589.1px">800.00</div>
<div class="sl" style="top:613.0px">600.00</div>
<div class="sl" style="top:637.0px">400.00</div>

<div class="abs" id="usd" style="left:1100.2px;top:3.1px;width:28.3px;height:14.6px;border:1px solid #2f333e;border-radius:2.8px;background:#131722;color:#565964;font-size:8.7px;line-height:10px"><span class="sx" style="position:absolute;left:3.5px;top:1.8px;transform:scaleX(0.77)">USD</span><svg width="6" height="5" viewBox="0 0 6 5" style="position:absolute;left:18.7px;top:4.6px"><path d="M1 1.2l2 2l2-2" fill="none" stroke="#6a6d78" stroke-width="0.95"/></svg></div>

<!-- price labels -->
<div class="pl" style="top:212.5px"><span>3934.28</span></div>
<div class="pl" style="top:308.6px"><span>3134.27</span></div>
<div class="pl" style="top:358.4px"><span>2742.31</span></div>
<div class="pl" style="top:403.3px"><span>2343.30</span></div>
<div class="abs" id="ethusd" style="left:1053px;top:337.1px;width:37px;height:11.8px;background:#5d606b;border-radius:1.5px;color:#e6e7ea;font-size:8.4px;line-height:11.8px"><span class="sx" style="position:absolute;left:4.2px;top:0.7px;transform:scaleX(0.85)">ETHUSD</span></div>
<div class="abs" id="curp" style="left:1091.3px;top:337.1px;width:42.7px;height:21.3px;background:#5d606b;border-radius:1.5px;color:#eceef1;font-size:9.3px;line-height:10px"><span class="sx" style="position:absolute;left:7.2px;top:1px">2896.54</span><span class="sx" style="position:absolute;left:7.2px;top:11px;color:#cfd1d8">02:01:42</span></div>

<div class="ml" style="left:37px">Apr</div>
<div class="ml" style="left:115px">May</div>
<div class="ml" style="left:195px">Jun</div>
<div class="ml" style="left:273px">Jul</div>
<div class="ml" style="left:353px">Aug</div>
<div class="ml" style="left:433px">Sep</div>
<div class="ml" style="left:511px">Oct</div>
<div class="ml" style="left:592px">Nov</div>
<div class="ml" style="left:669px">Dec</div>
<div class="ml" style="left:749px">2022</div>
<div class="ml" style="left:829px">Feb</div>
<div class="ml" style="left:902px">Mar</div>
<div class="ml" style="left:982px">Apr</div>
<div class="ml" style="left:1060px">May</div>


<!-- text labels on chart -->
<div class="lbl" id="dev" style="left:420.1px;top:162.3px;font-size:15.6px;line-height:18px;letter-spacing:-0.17px">Deviation</div>
<div class="lbl" id="bw" style="left:826.3px;top:458.1px;font-size:15.5px;line-height:18px;letter-spacing:-0.08px">Bearlin Wall</div>
<div class="lbl hh" id="hh1" style="left:90px;top:189.9px">HH</div>
<div class="lbl hh" id="hh2" style="left:108.1px;top:363.3px">HH</div>
<div class="lbl hh" id="hh3" style="left:87.4px;top:386.3px">HH</div>
<div class="lbl hl" id="hl1" style="left:129px;top:424.7px">HL</div>
<div class="lbl hl" id="hl2" style="left:35.8px;top:506.6px">HL</div>

<!-- bottom toolbar -->
<div class="tb" style="left:8px">1D</div>
<div class="tb" style="left:31px">5D</div>
<div class="tb" style="left:53px">1M</div>
<div class="tb" style="left:77px">3M</div>
<div class="tb" style="left:100px">6M</div>
<div class="tb" style="left:124px">YTD</div>
<div class="tb" style="left:153px">1Y</div>
<div class="tb" style="left:175px">5Y</div>
<div class="tb" style="left:197px">All</div>
<div class="tb" id="clock" style="left:966px;letter-spacing:-0.1px">21:58:18 (UTC)</div>
<div class="tb" style="left:1062px;font-size:11.5px">%</div>
<div class="tb" style="left:1083.5px;letter-spacing:0.1px">log</div>
<div class="tb" style="left:1108px;letter-spacing:0.2px">auto</div>
</body></html>
